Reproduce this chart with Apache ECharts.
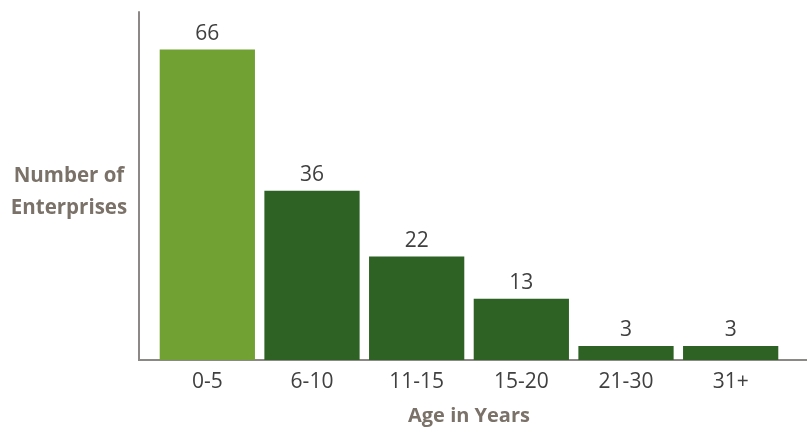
<!DOCTYPE html>
<html>
<head>
<meta charset="utf-8">
<script src="https://cdn.jsdelivr.net/npm/echarts@6/dist/echarts.min.js"></script>
<style>
  html, body { margin: 0; padding: 0; background: #fff; }
  #chart { width: 807px; height: 434px; }
</style>
</head>
<body>
<div id="chart"></div>
<script>
// age groups and counts
const ageGroups = ['0-5', '6-10', '11-15', '15-20', '21-30', '31+']
const enterprises = [66, 36, 22, 13, 3, 3]
const barColors = ['#70a132', '#2d6224', '#2d6224', '#2d6224', '#2d6224', '#2d6224']

const labelColor = '#404040'
const titleColor = '#7a7169'
const axisColor = '#8c8886'
const font = '"Open Sans", sans-serif'

let chart = echarts.init(document.getElementById('chart'))
chart.setOption({
  animation: false,
  grid: {
    left: 155,
    right: 24,
    top: 12,
    bottom: 74
  },
  xAxis: {
    type: 'category',
    data: ageGroups,
    name: 'Age in Years',
    nameLocation: 'middle',
    nameGap: 46,
    nameTextStyle: {
      color: titleColor,
      fontFamily: font,
      fontWeight: 'bold',
      fontSize: 20
    },
    axisLine: { show: false },
    axisTick: { show: false },
    axisLabel: {
      color: labelColor,
      fontFamily: font,
      fontSize: 21,
      margin: 12
    }
  },
  yAxis: {
    type: 'value',
    min: 0,
    max: 74,
    offset: 16,
    // small empty first line nudges the two-line title a bit lower
    name: '{s|}\n{t|Number of}\n{t|Enterprises}',
    nameLocation: 'middle',
    nameRotate: 0,
    nameGap: 70,
    nameTextStyle: {
      align: 'center',
      rich: {
        s: { lineHeight: 12, fontSize: 1 },
        t: {
          color: titleColor,
          fontFamily: font,
          fontWeight: 'bold',
          fontSize: 20.5,
          lineHeight: 32,
          align: 'center'
        }
      }
    },
    axisLine: { show: true, lineStyle: { color: axisColor, width: 2 } },
    axisTick: { show: false },
    axisLabel: { show: false },
    splitLine: { show: false }
  },
  // baseline of the plot, running past the bars like the original
  graphic: [{
    type: 'line',
    shape: { x1: 138, y1: 360, x2: 807, y2: 360 },
    style: { stroke: axisColor, lineWidth: 2 },
    silent: true
  }],
  series: [{
    type: 'bar',
    data: enterprises.map((v, i) => ({ value: v, itemStyle: { color: barColors[i] } })),
    barCategoryGap: '9%',
    label: {
      show: true,
      position: 'top',
      distance: 5,
      color: labelColor,
      fontFamily: font,
      fontSize: 21
    }
  }]
})
</script>
</body>
</html>
